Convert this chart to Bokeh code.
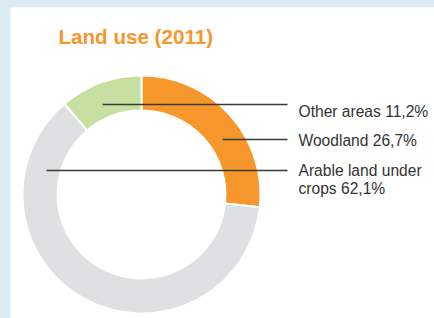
import math
from bokeh.plotting import figure
from bokeh.models import ColumnDataSource, Range1d, GlobalInlineStyleSheet
from bokeh.core.properties import value
from bokeh.embed import file_html
from bokeh.resources import INLINE

# ---- data ----
title_text = "Land use (2011)"
categories = ["Woodland", "Arable land under\ncrops", "Other areas"]
shares = [26.7, 62.1, 11.2]
colors = ["#f7962b", "#dfe0e1", "#c6e0a1"]

# ---- layout (pixels, y up) ----
W, H = 424, 311
cx, cy = 131, 124
r_in, r_out = 84, 119
anchor_r = 98
label_order = [2, 0, 1]            # top-to-bottom: Other, Woodland, Arable
leader_y = [214, 179, 148]
label_base_y = [207, 178, 148]
line_end_x = 277
text_x = 288
line_step = 18
FONT = "Liberation Sans"

p = figure(width=W, height=H, x_range=Range1d(0, W), y_range=Range1d(0, H),
           output_backend="svg", toolbar_location=None,
           x_axis_location=None, y_axis_location=None, min_border=0,
           outline_line_color=None, background_fill_color="white",
           border_fill_color="white")
p.grid.visible = False
p.stylesheets = [GlobalInlineStyleSheet(
    css="html,body{background:#dbedf3;overflow:hidden;} body{margin:7px 0 0 10px;}")]

# wedges, clockwise from 12 o'clock
total = sum(shares)
starts, ends, mids = [], [], []
cum = 0.0
for s in shares:
    a0 = math.pi / 2 - 2 * math.pi * cum / total
    cum += s
    a1 = math.pi / 2 - 2 * math.pi * cum / total
    starts.append(a0)
    ends.append(a1)
    mids.append((a0 + a1) / 2)

src = ColumnDataSource(dict(start=starts, end=ends, color=colors))
p.annular_wedge(x=cx, y=cy, inner_radius=r_in, outer_radius=r_out,
                start_angle="start", end_angle="end", direction="clock",
                fill_color="color", line_color="white", line_width=2,
                source=src)

# leader lines and labels
x0s, x1s, ys = [], [], []
tx, ty, tt = [], [], []
for k, idx in enumerate(label_order):
    ly = leader_y[k]
    dy = ly - cy
    dx = math.sqrt(max(anchor_r ** 2 - dy ** 2, 0))
    sign = 1 if math.cos(mids[idx]) > 0 else -1
    x0s.append(cx + sign * dx)
    x1s.append(line_end_x)
    ys.append(ly)
    label = f"{categories[idx]} {shares[idx]:.1f}%".replace(".", ",")
    for j, line in enumerate(label.split("\n")):
        tx.append(text_x)
        ty.append(label_base_y[k] - j * line_step)
        tt.append(line)

p.segment(x0=x0s, y0=ys, x1=x1s, y1=ys, line_color="#3a3a3a", line_width=1.4)
p.text(x=tx, y=ty, text=tt, text_font=value(FONT), text_font_size="15.6px",
       text_color="#333333", text_baseline="alphabetic", text_align="left")

p.text(x=[48], y=[282], text=[title_text], text_font=value(FONT),
       text_font_size="20.6px", text_font_style="bold", text_color="#f7962b",
       text_baseline="alphabetic", text_align="left")

open("out.html", "w").write(file_html(p, INLINE))
